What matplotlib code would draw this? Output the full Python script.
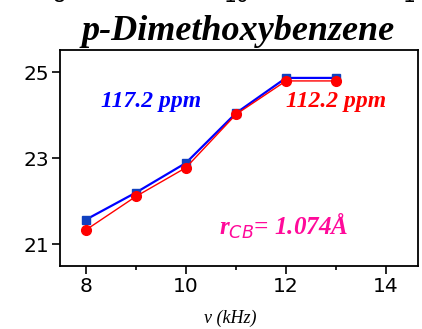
import numpy as np
import matplotlib
matplotlib.use("Agg")
import matplotlib.pyplot as plt

# data
freq = [8, 9, 10, 11, 12, 13]
shift_117 = [21.57, 22.2, 22.89, 24.05, 24.87, 24.87]
shift_112 = [21.33, 22.11, 22.78, 24.02, 24.8, 24.8]
xticks = [8, 10, 12, 14]
yticks = [21, 23, 25]

serif = "Liberation Serif"

fig = plt.figure(figsize=(4.22, 3.29), dpi=100)
ax = fig.add_axes([0.142, 0.1915, 0.8485, 0.6565])

ax.plot(freq, shift_117, color="blue", lw=1.6, marker="s", ms=6, mec="#1040c0", mfc="#1040c0")
ax.plot(freq, shift_112, color="red", lw=1.0, marker="o", ms=7, mec="red", mfc="red")

ax.set_xlim(7.48, 14.64)
ax.set_ylim(20.49, 25.52)
ax.set_xticks(xticks)
ax.set_xticks([9, 11, 13], minor=True)
ax.set_yticks(yticks)
ax.tick_params(which="major", direction="out", length=6, width=1.2, labelsize=14.5, pad=2)
ax.tick_params(which="minor", direction="out", length=3, width=1.2)
for s in ax.spines.values():
    s.set_linewidth(1.3)

ax.text(9.3, 24.33, "117.2 ppm", color="blue", fontsize=17, family=serif,
        weight="bold", style="italic", ha="center", va="center")
ax.text(13.0, 24.33, "112.2 ppm", color="red", fontsize=17, family=serif,
        weight="bold", style="italic", ha="center", va="center")
ax.text(11.95, 21.42, r"r$_{CB}$= 1.074Å", color="#ff0a9a", fontsize=18, family=serif,
        weight="bold", style="italic", ha="center", va="center")

ax.set_xlabel("ν (kHz)", family=serif, style="italic", fontsize=13)
ax.xaxis.set_label_coords(0.475, -0.2)
fig.text(0.565, 0.905, "p-Dimethoxybenzene", family=serif, weight="bold",
         style="italic", fontsize=26, ha="center", va="center")

# remnants of the chart above, cut by the top edge
for xp, s in [(0.14, "8"), (0.562, "10"), (0.985, "14")]:
    fig.text(xp, 1.01, s, fontsize=14.5, ha="center", va="center")

fig.savefig("out.png", dpi=100)
